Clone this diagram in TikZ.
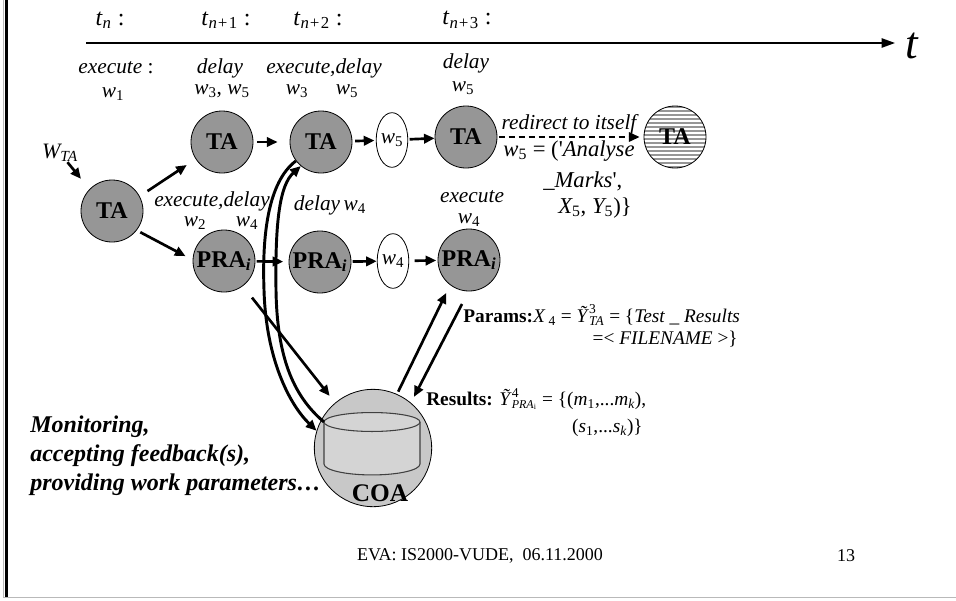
\documentclass[tikz,border=0pt]{standalone}
\usepackage{fontspec}
\setmainfont{Liberation Serif}
\usetikzlibrary{arrows.meta,shapes.geometric,calc}
\newcommand\lo[1]{\textsubscript{\upshape #1}}
\newcommand\li[1]{\textsubscript{\itshape #1}}
\newcommand\hi[1]{\textsuperscript{\upshape #1}}
\definecolor{nodegray}{RGB}{150,150,150}
\definecolor{coagray}{RGB}{200,200,200}
\definecolor{cylgray}{RGB}{212,212,212}
\begin{document}
\begin{tikzpicture}[x=0.75pt,y=-0.75pt,
  tanode/.style={circle,draw=black,line width=0.6pt,fill=nodegray,minimum size=46.5pt,inner sep=0pt,
     font=\fontsize{18}{20}\selectfont\bfseries},
  wnode/.style={ellipse,draw=black,line width=0.6pt,fill=white,minimum width=20pt,minimum height=41pt,inner sep=0pt,
     font=\fontsize{16}{18}\selectfont\itshape},
  lbl/.style={inner sep=0pt,font=\fontsize{16}{18}\selectfont\itshape},
  tlbl/.style={inner sep=0pt,font=\fontsize{18}{20}\selectfont},
  plbl/.style={inner sep=0pt,font=\fontsize{14.5}{17}\selectfont},
  arr/.style={line width=2pt,-{Triangle[length=8pt,width=7pt]}},
  curv/.style={line width=2.2pt,-{Triangle[length=8pt,width=7pt]}},
]
\useasboundingbox (0,0) rectangle (956,600);
% frame
\draw[gray!55,line width=0.8pt] (3.3,0) -- (3.3,598);
\draw[black,line width=2.2pt] (6.5,0) -- (6.5,597);
\draw[gray!55,line width=1pt] (3,597.6) -- (956,597.6);

% time axis
\coordinate (tl0) at (86,43);
\coordinate (tl1) at (895,43);
\draw[line width=1.1pt,-{Triangle[length=10pt,width=7pt]}] (tl0) -- (tl1);
\node[inner sep=0pt,font=\fontsize{34}{36}\selectfont\itshape] (tlab) at (912,46) {t};

\node[tlbl] (tn)  at (110,20) {\textit{t}\li{n} :};
\node[tlbl] (tn1) at (226,20) {\textit{t}\li{n+}\lo{1} :};
\node[tlbl] (tn2) at (318,20) {\textit{t}\li{n+}\lo{2} :};
\node[tlbl] (tn3) at (467,20) {\textit{t}\li{n+}\lo{3} :};

% labels above top row
\node[lbl] (e0) at (116,68) {execute \upshape:};
\node[lbl] (e0w) at (113,94) {w\lo{1}};
\node[lbl] (d1) at (220,68) {delay};
\node[lbl] (d1w) at (222,91) {w\lo{3}\upshape, \itshape w\lo{5}};
\node[lbl] (ed2) at (324,68) {execute,delay};
\node[lbl] (ed2a) at (297,91) {w\lo{3}};
\node[lbl] (ed2b) at (347,91) {w\lo{5}};
\node[lbl] (d3) at (466,63) {delay};
\node[lbl] (d3w) at (463,88) {w\lo{5}};

% nodes
\node[lbl,font=\fontsize{16.5}{18}\selectfont\itshape] (wta) at (60,153) {W\li{TA}};
\node[tanode] (ta0) at (112,211) {TA};
\node[tanode] (ta1) at (222,142) {TA};
\node[tanode] (ta2) at (321,142) {TA};
\node[wnode] (w5) at (392,140) {w\lo{5}};
\node[tanode] (ta3) at (466,137) {TA};
\node[tanode,path picture={
   \foreach \k in {-9,...,9}{
     \draw[white,line width=0.8pt] ([yshift=\k*3pt]path picture bounding box.west) -- ([yshift=\k*3pt]path picture bounding box.east);}
   }] (tah) at (675,137) {TA};

\node[tanode] (pra1) at (224,261) {PRA\li{i}};
\node[tanode] (pra2) at (320,262) {PRA\li{i}};
\node[wnode] (w4) at (393,261) {w\lo{4}};
\node[tanode] (pra3) at (469,260) {PRA\li{i}};

% COA
\node[circle,draw=black,line width=0.6pt,fill=coagray,minimum size=88pt,inner sep=0pt] (coa) at (373,448) {};
\path[fill=cylgray,draw=black!75,line width=0.8pt] (324,422) -- (324,464) arc[start angle=180,end angle=360,x radius=36pt,y radius=8.2pt] -- (420,422);
\draw[fill=cylgray,draw=black!75,line width=0.8pt] (372,422) ellipse[x radius=36pt,y radius=7.1pt];
\coordinate (cyl) at (324,422);
\node[inner sep=0pt,font=\fontsize{19}{21}\selectfont\bfseries] (coalab) at (380,493) {COA};

% middle labels
\node[lbl] (ed1) at (212,201) {execute,delay};
\node[lbl] (ed1a) at (195,223) {w\lo{2}};
\node[lbl] (ed1b) at (247,223) {w\lo{4}};
\node[lbl] (dl2) at (330,205) {delay\,w\lo{4}};
\node[lbl] (ex3) at (472,197) {execute};
\node[lbl] (ex3w) at (469,220) {w\lo{4}};

% redirect text
\node[lbl] (red) at (569,124) {redirect to itself};
\node[lbl,font=\fontsize{17}{19}\selectfont\itshape] (an1) at (569,151) {w\lo{5} \upshape= (\textquotesingle\itshape Analyse};
\node[lbl,font=\fontsize{17}{19}\selectfont\itshape,anchor=west] (an2) at (543,181) {\upshape\_\itshape Marks\upshape\textquotesingle,};
\node[lbl,font=\fontsize{17}{19}\selectfont\itshape,anchor=west] (an3) at (558,208) {X\lo{5}\upshape, \itshape Y\lo{5}\upshape)\}};

% params / results
\node[plbl,anchor=west] (par1) at (463,315) {\textbf{Params:}\textit{X}\,\lo{4} = \textit{\~{Y}}\rlap{\raisebox{1pt}{\hi{3}}}\textsubscript{\fontsize{10}{11}\selectfont\itshape TA} = \{\textit{Test \_ Results}};
\node[plbl,anchor=east] (par2) at (738,339) {=< \textit{FILENAME} >\}};
\node[plbl,anchor=west] (res1) at (426,399) {\textbf{Results:} \textit{\~{Y}}\rlap{\raisebox{1pt}{\hi{4}}}\textsubscript{\fontsize{9}{10}\selectfont\itshape PRA\textsubscript{\upshape i}} = \{(\textit{m}\lo{1},...\textit{m}\li{k}),};
\node[plbl,anchor=east] (res2) at (643,428) {(\textit{s}\lo{1},...\textit{s}\li{k})\}};
\coordinate (pstart) at (462,304);

% left text
\node[inner sep=0pt,anchor=west,align=left,font=\fontsize{18}{21.75}\selectfont\bfseries\itshape] (mon) at (30,456)
  {Monitoring,\\accepting feedback(s),\\providing work parameters…};

% footer
\node[inner sep=0pt,font=\fontsize{13.5}{15}\selectfont] (foot) at (480,556) {EVA: IS2000-VUDE,\ \ 06.11.2000};
\node[inner sep=0pt,font=\fontsize{13.5}{15}\selectfont] (page) at (846,556) {13};

% curves
\draw[curv] (ta2.217) .. controls (268,182) and (262,235) .. (264,290) .. controls (266,360) and (290,405) .. (coa.163);
\draw[curv] (cyl) .. controls (292,395) and (277,355) .. (276,290) .. controls (275,220) and (280,185) .. (ta2.230);

% arrows
\draw[arr,shorten >=10pt] (wta) -- (ta0.136);
\draw[arr,shorten <=7pt,shorten >=8pt] (ta0.28) -- (ta1.213);
\draw[arr,shorten <=3pt,shorten >=6pt] (ta0.-38) -- (pra1.178);
\draw[arr,shorten <=3pt,shorten >=9pt] (ta1) -- (ta2);
\draw[arr,shorten <=2pt,shorten >=1pt] (ta2) -- (w5);
\draw[arr,shorten <=1pt,shorten >=0pt] (w5) -- (ta3);
\draw[line width=1.6pt,dashed,dash pattern=on 4.5pt off 3pt,-{Triangle[length=8pt,width=7pt]},shorten <=1pt,shorten >=3pt] (ta3) -- (tah);
\draw[arr,shorten <=1pt,shorten >=4pt] (pra1) -- (pra2);
\draw[arr,shorten <=1pt,shorten >=0pt] (pra2) -- (w4);
\draw[arr,shorten <=4pt,shorten >=1pt] (w4) -- (pra3);
\draw[arr,shorten <=11pt,shorten >=6.5pt] (pra1.-53) -- (coa.130);
\draw[arr,shorten <=2pt,shorten >=6.5pt] (coa.66) -- (pra3.233);
\draw[arr,shorten >=5pt] (pstart) -- (coa.50);
\end{tikzpicture}
\end{document}
